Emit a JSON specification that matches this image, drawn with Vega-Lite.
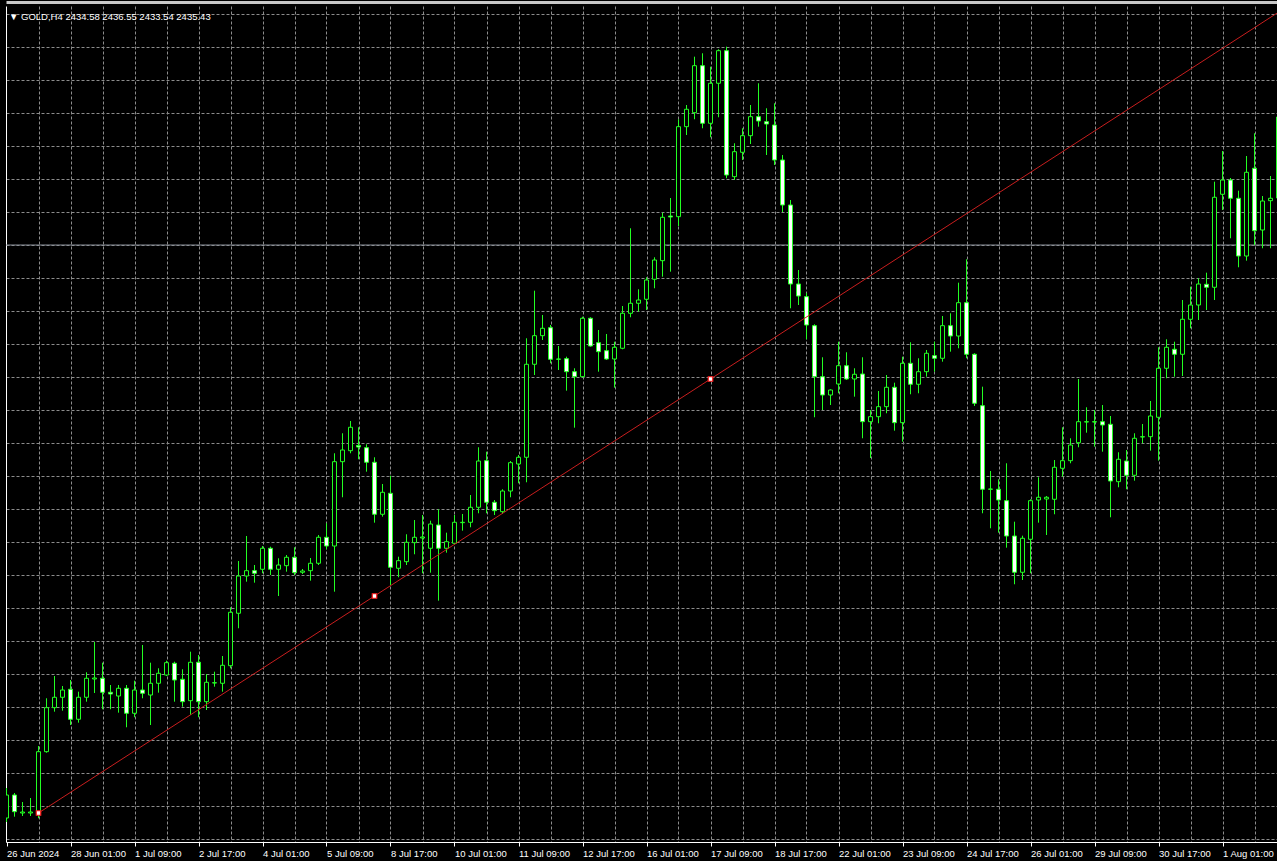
{
  "$schema": "https://vega.github.io/schema/vega-lite/v6.json",
  "width": 1271,
  "height": 836,
  "autosize": {"type": "none"},
  "padding": {"left": 6, "top": 6, "right": 0, "bottom": 19},
  "background": "#000000",
  "config": {"view": {"stroke": null}, "font": "Liberation Sans"},
  "title": {
    "text": "▼ GOLD,H4  2434.58 2436.55 2433.54 2435.43",
    "anchor": "start", "frame": "group", "orient": "top",
    "offset": -19, "dx": 3,
    "color": "#ffffff", "fontSize": 9.5, "fontWeight": "normal", "font": "Liberation Sans"
  },
  "resolve": {"axis": {"x": "independent"}},
  "datasets": {
    "bars": [
      {"i":0,"o":2291.5,"h":2299,"l":2290.5,"c":2297.25},
      {"i":1,"o":2297.25,"h":2297.75,"l":2291.83,"c":2293.08},
      {"i":2,"o":2292.75,"h":2295.5,"l":2292,"c":2293},
      {"i":3,"o":2292.75,"h":2296.5,"l":2292,"c":2293},
      {"i":4,"o":2292.68,"h":2309.5,"l":2291.43,"c":2308.08},
      {"i":5,"o":2308.08,"h":2321.43,"l":2307.83,"c":2319.08},
      {"i":6,"o":2319.08,"h":2327,"l":2318.08,"c":2321.68},
      {"i":7,"o":2321.68,"h":2324.5,"l":2318.33,"c":2323.5},
      {"i":8,"o":2323.68,"h":2326,"l":2314.75,"c":2316.18},
      {"i":9,"o":2316.18,"h":2323.08,"l":2315.33,"c":2321.68},
      {"i":10,"o":2321.68,"h":2327.93,"l":2320.58,"c":2326.43},
      {"i":11,"o":2326.25,"h":2335.5,"l":2322.75,"c":2326.5},
      {"i":12,"o":2326.43,"h":2330.33,"l":2318.68,"c":2322.93},
      {"i":13,"o":2322.93,"h":2324.75,"l":2318.68,"c":2322.5},
      {"i":14,"o":2322,"h":2324.75,"l":2317.83,"c":2323.93},
      {"i":15,"o":2323.93,"h":2324.75,"l":2314.18,"c":2317.68},
      {"i":16,"o":2317.68,"h":2325.83,"l":2316.68,"c":2323.5},
      {"i":17,"o":2323.5,"h":2334.75,"l":2321.43,"c":2322.68},
      {"i":18,"o":2322.25,"h":2330.33,"l":2314.75,"c":2325.18},
      {"i":19,"o":2325.18,"h":2328.93,"l":2322.83,"c":2327.68},
      {"i":20,"o":2327.25,"h":2330.83,"l":2327,"c":2330.33},
      {"i":21,"o":2330.18,"h":2330.58,"l":2320.58,"c":2326},
      {"i":22,"o":2326.18,"h":2328.68,"l":2319.33,"c":2320.58},
      {"i":23,"o":2320.83,"h":2333.08,"l":2317.25,"c":2330.43},
      {"i":24,"o":2330.43,"h":2332.25,"l":2316.68,"c":2320.58},
      {"i":25,"o":2320.58,"h":2327.5,"l":2318.5,"c":2325.43},
      {"i":26,"o":2325.25,"h":2328.08,"l":2324.33,"c":2325.33},
      {"i":27,"o":2325.18,"h":2332,"l":2323.08,"c":2329.68},
      {"i":28,"o":2329.58,"h":2344.18,"l":2328.93,"c":2342.93},
      {"i":29,"o":2342.68,"h":2355.75,"l":2338.93,"c":2352},
      {"i":30,"o":2352,"h":2362,"l":2350.58,"c":2353.33},
      {"i":31,"o":2353.33,"h":2354.75,"l":2350.33,"c":2352.68},
      {"i":32,"o":2353.68,"h":2359.5,"l":2352.68,"c":2358.93},
      {"i":33,"o":2358.93,"h":2359.33,"l":2352.25,"c":2353.68},
      {"i":34,"o":2353.68,"h":2356.43,"l":2347,"c":2354.75},
      {"i":35,"o":2354.58,"h":2357.25,"l":2353.08,"c":2356.68},
      {"i":36,"o":2356.68,"h":2359.18,"l":2352.25,"c":2352.83},
      {"i":37,"o":2352.93,"h":2353.75,"l":2352.5,"c":2353.25},
      {"i":38,"o":2353.33,"h":2356.5,"l":2350.83,"c":2355.18},
      {"i":39,"o":2355.18,"h":2362.25,"l":2354.75,"c":2361.68},
      {"i":40,"o":2361.68,"h":2365.18,"l":2358.68,"c":2359.5},
      {"i":41,"o":2359.5,"h":2382.68,"l":2348.08,"c":2380.58},
      {"i":42,"o":2380.58,"h":2387.68,"l":2371.68,"c":2383.5},
      {"i":43,"o":2383.33,"h":2390.75,"l":2382.68,"c":2389.18},
      {"i":44,"o":2384.63,"h":2389.18,"l":2381.18,"c":2384.25},
      {"i":45,"o":2384.08,"h":2384.93,"l":2378.08,"c":2380.43},
      {"i":46,"o":2380.43,"h":2381.68,"l":2365.33,"c":2367.43},
      {"i":47,"o":2367.43,"h":2375,"l":2366.83,"c":2372.93},
      {"i":48,"o":2372.68,"h":2377.08,"l":2349.75,"c":2354.18},
      {"i":49,"o":2353.93,"h":2356.83,"l":2351.68,"c":2355.83},
      {"i":50,"o":2355.58,"h":2362.43,"l":2354.75,"c":2360.43},
      {"i":51,"o":2360.33,"h":2366,"l":2357.43,"c":2361.68},
      {"i":52,"o":2361.5,"h":2367.25,"l":2352.68,"c":2361.75},
      {"i":53,"o":2358.93,"h":2365.83,"l":2352.83,"c":2365},
      {"i":54,"o":2364.75,"h":2368.68,"l":2345.83,"c":2358.93},
      {"i":55,"o":2358.93,"h":2362.83,"l":2357.83,"c":2360.58},
      {"i":56,"o":2360.18,"h":2367.25,"l":2360,"c":2365.43},
      {"i":57,"o":2365.33,"h":2367.5,"l":2363.33,"c":2365.43},
      {"i":58,"o":2365.43,"h":2372.25,"l":2364.18,"c":2369.18},
      {"i":59,"o":2369.18,"h":2384.18,"l":2367.68,"c":2380.75},
      {"i":60,"o":2380.83,"h":2383.08,"l":2367.68,"c":2370.43},
      {"i":61,"o":2370.43,"h":2371,"l":2367.25,"c":2368.33},
      {"i":62,"o":2368.08,"h":2373.68,"l":2367.5,"c":2373.25},
      {"i":63,"o":2373.25,"h":2380.75,"l":2371.68,"c":2380.33},
      {"i":64,"o":2380,"h":2382.25,"l":2375.18,"c":2381.68},
      {"i":65,"o":2381.68,"h":2411.43,"l":2375.43,"c":2404.93},
      {"i":66,"o":2404.93,"h":2423.33,"l":2402.25,"c":2412.08},
      {"i":67,"o":2412.08,"h":2417.25,"l":2411,"c":2413.93},
      {"i":68,"o":2414.08,"h":2414.75,"l":2405.18,"c":2406.18},
      {"i":69,"o":2406.18,"h":2409.5,"l":2403.5,"c":2406.25},
      {"i":70,"o":2406.33,"h":2406.83,"l":2398.33,"c":2403.08},
      {"i":71,"o":2403.08,"h":2403.93,"l":2389.08,"c":2401.83},
      {"i":72,"o":2401.83,"h":2416.83,"l":2401.68,"c":2416.43},
      {"i":73,"o":2416.43,"h":2416.68,"l":2409.33,"c":2409.5},
      {"i":74,"o":2410.33,"h":2413.5,"l":2403.08,"c":2408.08},
      {"i":75,"o":2408.33,"h":2412.5,"l":2406,"c":2406.25},
      {"i":76,"o":2406.25,"h":2410.58,"l":2399.08,"c":2409.18},
      {"i":77,"o":2408.93,"h":2419.5,"l":2408.68,"c":2417.68},
      {"i":78,"o":2417.68,"h":2438.93,"l":2416.68,"c":2420.18},
      {"i":79,"o":2420.18,"h":2423.68,"l":2418.08,"c":2421},
      {"i":80,"o":2421.18,"h":2426.68,"l":2418.5,"c":2426},
      {"i":81,"o":2426.18,"h":2431.68,"l":2423.93,"c":2431},
      {"i":82,"o":2430.83,"h":2442.83,"l":2426.83,"c":2441.68},
      {"i":83,"o":2442,"h":2446.5,"l":2428.08,"c":2441.75},
      {"i":84,"o":2441.83,"h":2466.18,"l":2439.5,"c":2464.33},
      {"i":85,"o":2464.33,"h":2469.75,"l":2462.25,"c":2468.68},
      {"i":86,"o":2467.83,"h":2481.83,"l":2466.18,"c":2479.58},
      {"i":87,"o":2479.58,"h":2482.68,"l":2463.93,"c":2465.18},
      {"i":88,"o":2465.18,"h":2479.33,"l":2461.68,"c":2475.18},
      {"i":89,"o":2475.18,"h":2483.68,"l":2466.68,"c":2483.33},
      {"i":90,"o":2483.33,"h":2484.33,"l":2451.43,"c":2452.25},
      {"i":91,"o":2451.83,"h":2460.18,"l":2451,"c":2458.08},
      {"i":92,"o":2457.93,"h":2463.93,"l":2456,"c":2462.08},
      {"i":93,"o":2462.08,"h":2469.75,"l":2460,"c":2466.83},
      {"i":94,"o":2466.83,"h":2475.18,"l":2464.33,"c":2465.75},
      {"i":95,"o":2465.58,"h":2468.93,"l":2457.25,"c":2465},
      {"i":96,"o":2464.75,"h":2470.18,"l":2454.75,"c":2456},
      {"i":97,"o":2456,"h":2457.25,"l":2443,"c":2444.75},
      {"i":98,"o":2444.75,"h":2446,"l":2418.93,"c":2425},
      {"i":99,"o":2425,"h":2428.5,"l":2419.75,"c":2422},
      {"i":100,"o":2421.83,"h":2422.75,"l":2411.18,"c":2414.75},
      {"i":101,"o":2414.58,"h":2414.93,"l":2391.68,"c":2401.83},
      {"i":102,"o":2401.83,"h":2406.68,"l":2393.5,"c":2397.25},
      {"i":103,"o":2397.25,"h":2398.68,"l":2394.75,"c":2398.5},
      {"i":104,"o":2400,"h":2410.58,"l":2397.68,"c":2404.58},
      {"i":105,"o":2404.58,"h":2407.93,"l":2401,"c":2401.25},
      {"i":106,"o":2401.25,"h":2403.93,"l":2396.83,"c":2402.43},
      {"i":107,"o":2402.5,"h":2406.68,"l":2386.43,"c":2390.58},
      {"i":108,"o":2390.58,"h":2393.5,"l":2381.5,"c":2391.83},
      {"i":109,"o":2391.83,"h":2398.25,"l":2390.18,"c":2394.33},
      {"i":110,"o":2394.33,"h":2402.25,"l":2392.68,"c":2399.18},
      {"i":111,"o":2399.18,"h":2400.33,"l":2388.33,"c":2390.33},
      {"i":112,"o":2390.33,"h":2406.83,"l":2385.58,"c":2405.18},
      {"i":113,"o":2405.18,"h":2410.43,"l":2397.43,"c":2399.93},
      {"i":114,"o":2399.93,"h":2406.43,"l":2397.68,"c":2403.08},
      {"i":115,"o":2403.08,"h":2408.5,"l":2401.83,"c":2407.68},
      {"i":116,"o":2407.08,"h":2410.58,"l":2403.08,"c":2406.43},
      {"i":117,"o":2406.43,"h":2417,"l":2405.58,"c":2414.58},
      {"i":118,"o":2414.58,"h":2417.68,"l":2408.08,"c":2412},
      {"i":119,"o":2412,"h":2425.33,"l":2408.93,"c":2420.33},
      {"i":120,"o":2420.33,"h":2431.18,"l":2406.43,"c":2407.43},
      {"i":121,"o":2407.43,"h":2407.68,"l":2394.5,"c":2395.18},
      {"i":122,"o":2394.58,"h":2399.33,"l":2367.68,"c":2373.68},
      {"i":123,"o":2373.68,"h":2378.25,"l":2363.93,"c":2373.75},
      {"i":124,"o":2373.68,"h":2376.18,"l":2362.83,"c":2371},
      {"i":125,"o":2370.83,"h":2380.18,"l":2359.08,"c":2362},
      {"i":126,"o":2362,"h":2365.58,"l":2349.93,"c":2352.93},
      {"i":127,"o":2352.93,"h":2362.08,"l":2351,"c":2361.43},
      {"i":128,"o":2361.18,"h":2371.18,"l":2352.68,"c":2370.83},
      {"i":129,"o":2371,"h":2376.68,"l":2365.33,"c":2371.68},
      {"i":130,"o":2371.25,"h":2372,"l":2362.25,"c":2371.68},
      {"i":131,"o":2371.18,"h":2381,"l":2367.43,"c":2379.18},
      {"i":132,"o":2378.93,"h":2389.18,"l":2376.83,"c":2380.83},
      {"i":133,"o":2380.83,"h":2386.43,"l":2380.18,"c":2384.75},
      {"i":134,"o":2385.33,"h":2401.25,"l":2384.18,"c":2390.58},
      {"i":135,"o":2390.5,"h":2394.18,"l":2387.83,"c":2390.58},
      {"i":136,"o":2390.5,"h":2393.5,"l":2384.33,"c":2390.58},
      {"i":137,"o":2390.58,"h":2394.75,"l":2383.08,"c":2389.75},
      {"i":138,"o":2389.93,"h":2392,"l":2366.68,"c":2375.75},
      {"i":139,"o":2375.58,"h":2382.93,"l":2374.18,"c":2381.18},
      {"i":140,"o":2380.75,"h":2383.5,"l":2373.68,"c":2377.18},
      {"i":141,"o":2377.18,"h":2387.68,"l":2375.83,"c":2386.43},
      {"i":142,"o":2386.75,"h":2390,"l":2385.18,"c":2386.83},
      {"i":143,"o":2386.83,"h":2395.75,"l":2383.33,"c":2392},
      {"i":144,"o":2391.68,"h":2409.18,"l":2380.83,"c":2403.93},
      {"i":145,"o":2403.93,"h":2411.18,"l":2401.43,"c":2409.18},
      {"i":146,"o":2408.68,"h":2410.58,"l":2401.83,"c":2407.43},
      {"i":147,"o":2407.43,"h":2421,"l":2402,"c":2416.18},
      {"i":148,"o":2416.18,"h":2424.33,"l":2413.93,"c":2419.75},
      {"i":149,"o":2419.75,"h":2426.43,"l":2416,"c":2425},
      {"i":150,"o":2424.93,"h":2427.83,"l":2418.5,"c":2424.18},
      {"i":151,"o":2424.18,"h":2450.58,"l":2421,"c":2446.68},
      {"i":152,"o":2447.43,"h":2458.25,"l":2443.5,"c":2451},
      {"i":153,"o":2451,"h":2451.5,"l":2436.43,"c":2446.43},
      {"i":154,"o":2446.43,"h":2448.33,"l":2429.18,"c":2432},
      {"i":155,"o":2432,"h":2457,"l":2430.83,"c":2452.93},
      {"i":156,"o":2453.93,"h":2462.68,"l":2434.75,"c":2438.33},
      {"i":157,"o":2438.5,"h":2447,"l":2433.93,"c":2445.75},
      {"i":158,"o":2445.83,"h":2452,"l":2433.93,"c":2446.43},
      {"i":159,"o":2446.5,"h":2468,"l":2446,"c":2466.75}
    ],
    "trend": [{"i": 4, "p": 2292.75}, {"i": 161, "p": 2495.54}],
    "anchors": [{"i": 4, "p": 2292.75}, {"i": 46, "p": 2347}, {"i": 88, "p": 2401.25}],
    "bid": [{"p": 2434.75}]
  },
  "layer": [
    {
      "data": {"name": "bid"},
      "mark": {"type": "rule", "color": "#8a909a", "strokeWidth": 1},
      "encoding": {
        "y": {
          "field": "p", "type": "quantitative",
          "scale": {"domain": [2285.5, 2494.5], "nice": false, "zero": false, "padding": 0},
          "axis": {
            "title": null, "labels": false, "ticks": false, "tickCount": 500,
            "domain": true, "domainColor": "#ffffff", "domainWidth": 1,
            "grid": true, "gridColor": "#8c8c8c", "gridDash": [3, 2], "gridWidth": 1,
            "values": [2492.425, 2484.175, 2475.925, 2467.675, 2459.425, 2451.175, 2442.925, 2434.675, 2426.425, 2418.175, 2409.925, 2401.675, 2393.425, 2385.175, 2376.925, 2368.675, 2360.425, 2352.175, 2343.925, 2335.675, 2327.425, 2319.175, 2310.925, 2302.675, 2294.425, 2286.175]
          }
        }
      }
    },
    {
      "data": {"name": "bars"},
      "mark": {"type": "rule", "color": "#22ff22", "strokeWidth": 1, "clip": true},
      "encoding": {
        "x": {
          "field": "i", "type": "quantitative",
          "scale": {"domain": [-0.0625, 158.8125], "nice": false, "zero": false, "padding": 0},
          "axis": {
            "title": null, "orient": "bottom", "tickCount": 500,
            "values": [0,4,8,12,16,20,24,28,32,36,40,44,48,52,56,60,64,68,72,76,80,84,88,92,96,100,104,108,112,116,120,124,128,132,136,140,144,148,152,156],
            "labelExpr": "datum.value % 8 === 0 ? ['26 Jun 2024','28 Jun 01:00','1 Jul 09:00','2 Jul 17:00','4 Jul 01:00','5 Jul 09:00','8 Jul 17:00','10 Jul 01:00','11 Jul 09:00','12 Jul 17:00','16 Jul 01:00','17 Jul 09:00','18 Jul 17:00','22 Jul 01:00','23 Jul 09:00','24 Jul 17:00','26 Jul 01:00','29 Jul 09:00','30 Jul 17:00','1 Aug 01:00'][datum.value / 8] : ''",
            "labelAlign": "left", "labelBaseline": "top", "labelPadding": 2,
            "labelFlush": false, "labelOverlap": false, "labelBound": false,
            "labelColor": "#ffffff", "labelFontSize": 9.5, "labelFont": "Liberation Sans",
            "domain": true, "domainColor": "#ffffff", "domainWidth": 1,
            "ticks": true, "tickSize": 4, "tickColor": "#ffffff",
            "tickOpacity": {"condition": {"test": "datum.value % 8 === 0", "value": 1}, "value": 0},
            "grid": true, "gridColor": "#8c8c8c", "gridDash": [3, 2], "gridWidth": 1,
            "gridOpacity": {"condition": {"test": "datum.value === 0", "value": 0}, "value": 1}
          }
        },
        "y": {"field": "l", "type": "quantitative"},
        "y2": {"field": "h"}
      }
    },
    {
      "data": {"name": "bars"},
      "mark": {"type": "bar", "width": 4, "stroke": "#22ff22", "strokeWidth": 1, "clip": true},
      "encoding": {
        "x": {"field": "i", "type": "quantitative", "axis": null},
        "y": {"field": "o", "type": "quantitative"},
        "y2": {"field": "c"},
        "fill": {"condition": {"test": "datum.c < datum.o", "value": "#ffffff"}, "value": "#000000"}
      }
    },
    {
      "data": {"name": "trend"},
      "mark": {"type": "line", "color": "#c81e1e", "strokeWidth": 1, "clip": true},
      "encoding": {
        "x": {
          "field": "i", "type": "quantitative",
          "axis": {
            "orient": "top", "title": null, "labels": false, "ticks": false, "grid": false,
            "domain": true, "domainColor": "#c8c8c8", "domainWidth": 3, "offset": 4
          }
        },
        "y": {"field": "p", "type": "quantitative"}
      }
    },
    {
      "data": {"name": "anchors"},
      "mark": {"type": "point", "shape": "square", "size": 20, "filled": true, "fill": "#ffffff", "stroke": "#ff1a1a", "strokeWidth": 1.2, "opacity": 1},
      "encoding": {
        "x": {"field": "i", "type": "quantitative", "axis": null},
        "y": {"field": "p", "type": "quantitative"}
      }
    }
  ]
}
